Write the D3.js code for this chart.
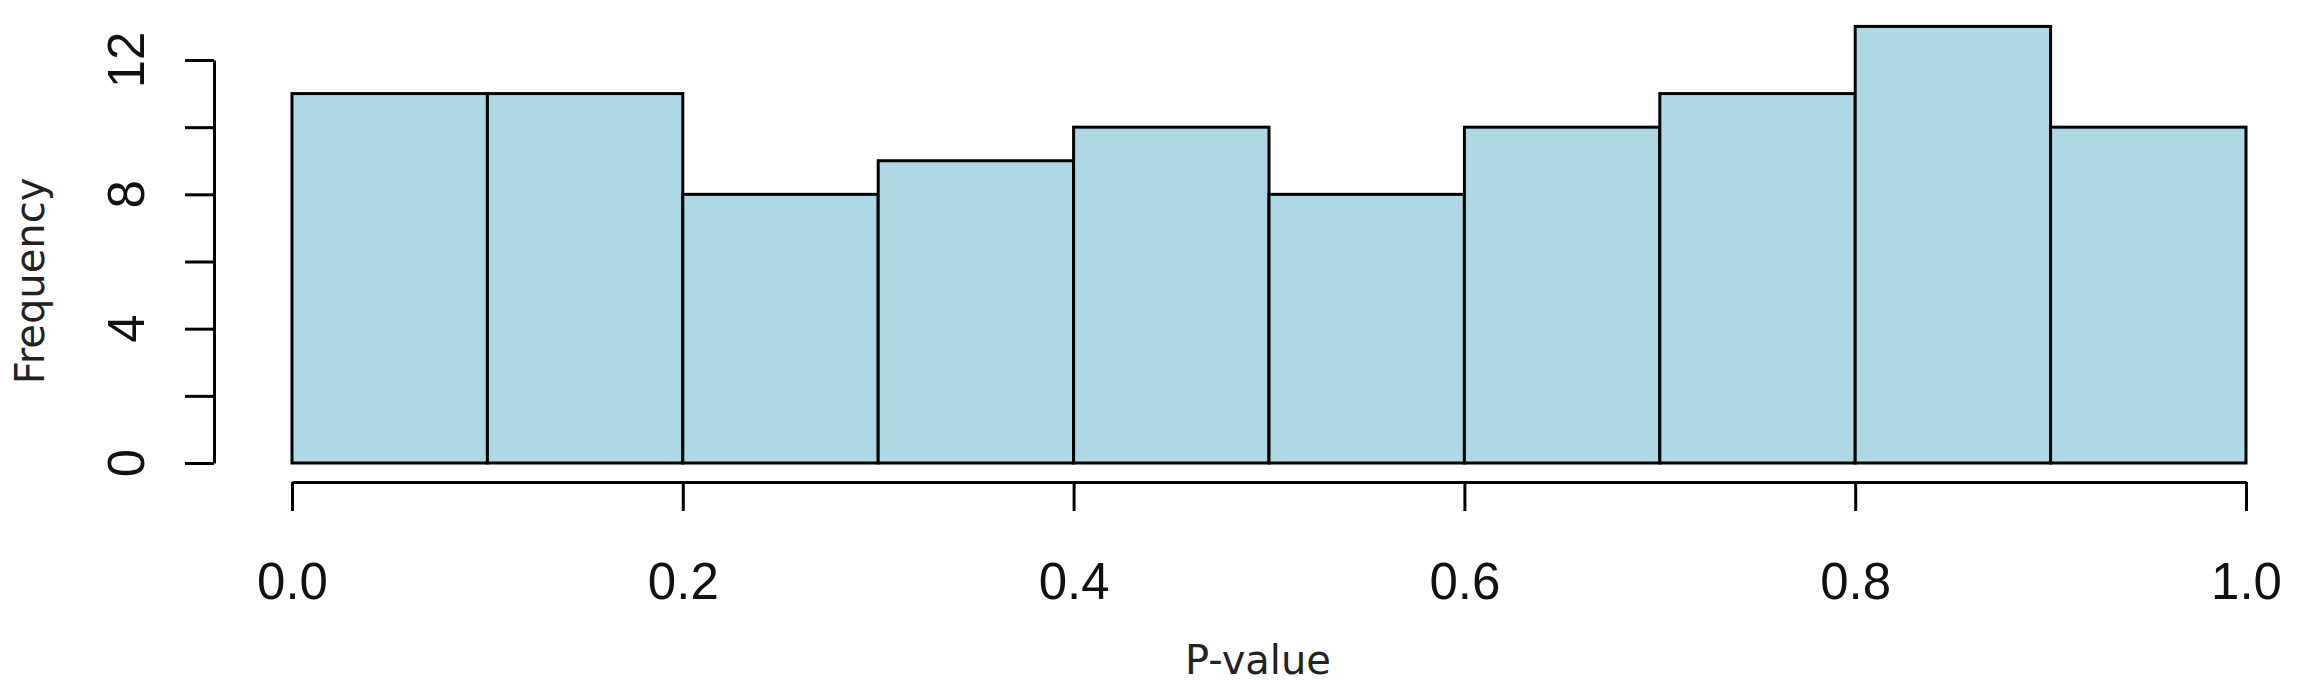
<!DOCTYPE html>
<html>
<head>
<meta charset="UTF-8">
<style>body{margin:0;background:#fff}</style>
</head>
<body>
<svg width="2301" height="691"></svg>
<script src="https://d3js.org/d3.v7.min.js"></script>
<script>
// histogram bins and counts
const binEdges = [0, 0.1, 0.2, 0.3, 0.4, 0.5, 0.6, 0.7, 0.8, 0.9, 1.0];
const counts = [11, 11, 8, 9, 10, 8, 10, 11, 13, 10];
const xTicks = [0, 0.2, 0.4, 0.6, 0.8, 1.0];
const yTicks = [0, 2, 4, 6, 8, 10, 12];
const yLabelTicks = [0, 4, 8, 12];

const svg = d3.select("svg");
const font = "Liberation Sans, Arial, sans-serif";

const x = d3.scaleLinear().domain([0, 1]).range([292, 2246]);
const y = d3.scaleLinear().domain([0, 12]).range([463, 60]);

const bins = counts.map((c, i) => ({x0: binEdges[i], x1: binEdges[i + 1], n: c}));

svg.append("g").selectAll("rect")
  .data(bins)
  .enter().append("rect")
    .attr("x", d => x(d.x0))
    .attr("y", d => y(d.n))
    .attr("width", d => x(d.x1) - x(d.x0))
    .attr("height", d => y(0) - y(d.n))
    .attr("fill", "#add8e6")
    .attr("stroke", "#000")
    .attr("stroke-width", 3);

// x axis (R style, detached)
const gx = svg.append("g").attr("transform", "translate(0,482)");
gx.call(d3.axisBottom(x).tickValues(xTicks).tickSize(29).tickPadding(52)
  .tickSizeOuter(0).tickFormat(d3.format(".1f")));
gx.select(".domain").attr("stroke-width", 3);
gx.selectAll(".tick line").attr("stroke-width", 3);
gx.selectAll("text").attr("font-size", 51).attr("font-family", font).attr("fill", "#111");

// y axis
const gy = svg.append("g").attr("transform", "translate(214,0)");
gy.call(d3.axisLeft(y).tickValues(yTicks).tickSize(29).tickSizeOuter(0).tickFormat(""));
gy.select(".domain").attr("stroke-width", 3);
gy.selectAll(".tick line").attr("stroke-width", 3);

svg.append("g").selectAll("text")
  .data(yLabelTicks)
  .enter().append("text")
    .attr("transform", d => `translate(144,${y(d)}) rotate(-90)`)
    .attr("text-anchor", "middle")
    .attr("font-size", 51)
    .attr("font-family", font)
    .attr("fill", "#111")
    .text(d => d);

svg.append("text")
  .attr("transform", "translate(44,281) rotate(-90)")
  .attr("text-anchor", "middle")
  .attr("font-size", 40)
  .attr("font-family", "DejaVu Sans, sans-serif")
  .attr("fill", "#222")
  .text("Frequency");

svg.append("text")
  .attr("x", 1258).attr("y", 674)
  .attr("text-anchor", "middle")
  .attr("font-size", 40)
  .attr("font-family", "DejaVu Sans, sans-serif")
  .attr("fill", "#222")
  .text("P-value");
</script>
</body>
</html>
